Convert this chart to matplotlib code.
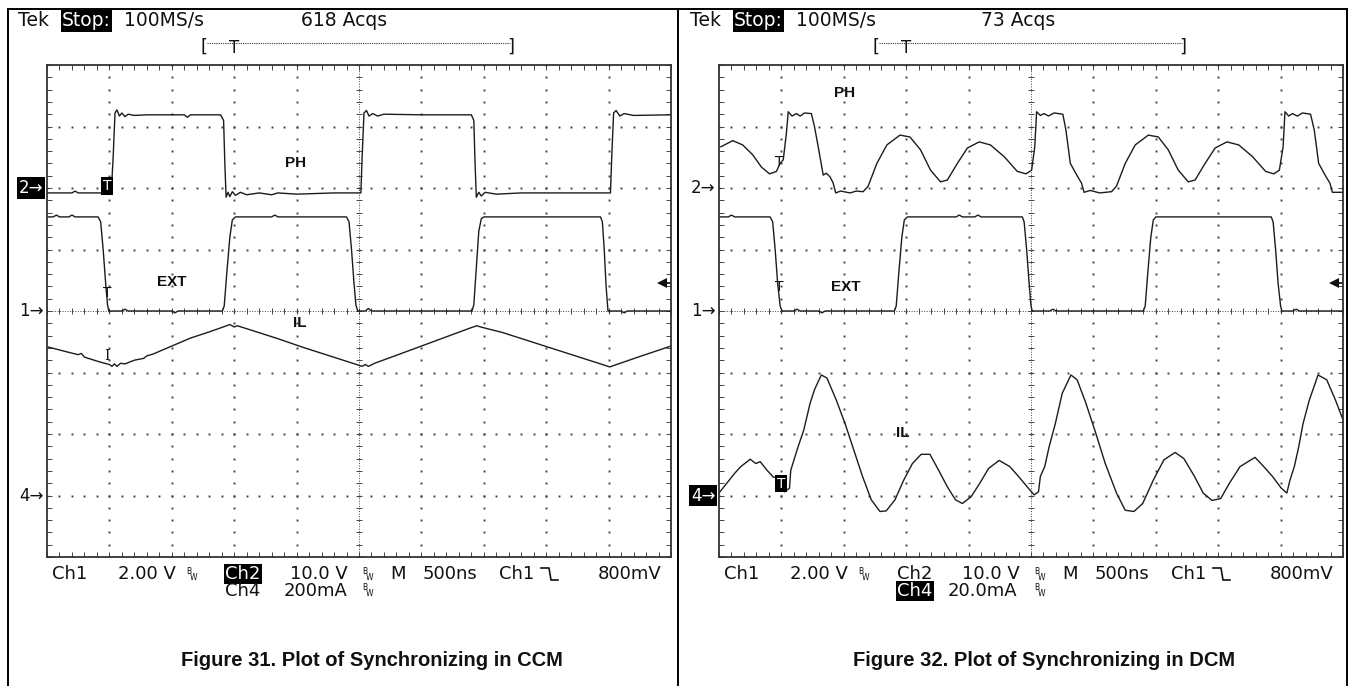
import numpy as np
import matplotlib
matplotlib.use('Agg')
import matplotlib.pyplot as plt
from matplotlib.lines import Line2D

W, H = 1353, 686

# traces: (time in divisions of 500 ns, level in divisions)
# ---- Figure 31, CCM ----
ccm_ph = [(0, 1.92), (0.4, 1.92), (0.45, 1.95), (0.5, 1.92), (1.03, 1.92), (1.06, 2.5),
          (1.09, 3.22), (1.12, 3.27), (1.16, 3.17), (1.2, 3.22), (1.25, 3.16), (1.3, 3.2),
          (1.4, 3.18), (1.6, 3.19), (2.2, 3.19), (2.25, 3.15), (2.3, 3.19), (2.78, 3.19),
          (2.83, 3.1), (2.85, 2.4), (2.87, 1.85), (2.9, 1.93), (2.93, 1.86), (2.97, 1.94),
          (3.02, 1.88), (3.1, 1.93), (3.2, 1.89), (3.4, 1.92), (3.6, 1.89), (3.7, 1.92),
          (4.0, 1.9), (4.6, 1.92), (5.03, 1.92), (5.05, 2.5), (5.08, 3.22), (5.12, 3.26),
          (5.16, 3.17), (5.22, 3.21), (5.3, 3.17), (5.4, 3.2), (6.0, 3.19), (6.8, 3.19),
          (6.84, 3.1), (6.86, 2.4), (6.88, 1.85), (6.92, 1.93), (6.96, 1.87), (7.02, 1.93),
          (7.2, 1.9), (7.6, 1.92), (9.03, 1.92), (9.05, 2.5), (9.08, 3.22), (9.12, 3.26),
          (9.18, 3.17), (9.25, 3.21), (9.4, 3.18), (10, 3.19)]
ccm_ext = [(0, 1.53), (0.1, 1.53), (0.15, 1.56), (0.2, 1.53), (0.35, 1.53), (0.4, 1.56),
           (0.45, 1.53), (0.82, 1.53), (0.86, 1.45), (0.9, 1.0), (0.94, 0.45), (0.97, 0.1),
           (0.99, 0.0), (1.2, 0.0), (1.25, 0.03), (1.3, 0.0), (2.0, 0.0), (2.05, -0.03),
           (2.1, 0.0), (2.81, 0.0), (2.84, 0.08), (2.88, 0.6), (2.93, 1.2), (2.97, 1.48),
           (3.02, 1.53), (3.6, 1.53), (3.65, 1.56), (3.7, 1.53), (4.8, 1.53), (4.84, 1.45),
           (4.88, 1.0), (4.92, 0.45), (4.95, 0.1), (4.98, 0.0), (5.1, 0.0), (5.15, 0.04),
           (5.2, 0.0), (6.81, 0.0), (6.84, 0.1), (6.88, 0.7), (6.92, 1.3), (6.96, 1.5),
           (7.0, 1.53), (8.87, 1.53), (8.9, 1.45), (8.93, 1.0), (8.96, 0.4), (8.99, 0.0),
           (9.2, 0.0), (9.25, -0.03), (9.3, 0.0), (10, 0.0)]
ccm_il = [(0, -0.58), (0.3, -0.66), (0.5, -0.71), (0.55, -0.69), (0.6, -0.75), (0.85, -0.83),
          (1.0, -0.87), (1.04, -0.9), (1.08, -0.86), (1.12, -0.9), (1.18, -0.85), (1.25, -0.86),
          (1.4, -0.8), (1.55, -0.77), (1.6, -0.73), (1.7, -0.7), (2.0, -0.57), (2.3, -0.44),
          (2.6, -0.34), (2.85, -0.25), (2.93, -0.22), (3.0, -0.26), (3.05, -0.24), (3.3, -0.32),
          (3.7, -0.45), (4.1, -0.59), (4.5, -0.72), (4.9, -0.85), (5.05, -0.9), (5.1, -0.87),
          (5.15, -0.9), (5.25, -0.85), (5.6, -0.72), (6.0, -0.57), (6.4, -0.42), (6.8, -0.27),
          (6.89, -0.24), (6.95, -0.26), (7.3, -0.35), (7.7, -0.48), (8.1, -0.61), (8.5, -0.74),
          (8.9, -0.87), (9.02, -0.91), (9.1, -0.88), (9.5, -0.74), (10.0, -0.57)]

# ---- Figure 32, DCM ----
dcm_ph = [(0.03, 2.67), (0.22, 2.77), (0.38, 2.7), (0.54, 2.54), (0.68, 2.34), (0.81, 2.23),
          (0.92, 2.27), (0.98, 2.4), (1.03, 2.46), (1.08, 2.89), (1.11, 3.24), (1.17, 3.17),
          (1.24, 3.21), (1.3, 3.17), (1.37, 3.22), (1.48, 3.21), (1.53, 3.0), (1.59, 2.67),
          (1.67, 2.21), (1.72, 2.24), (1.78, 2.18), (1.83, 2.08), (1.87, 1.92), (1.95, 1.95),
          (2.1, 1.92), (2.2, 1.95), (2.31, 1.94), (2.39, 2.03), (2.53, 2.4), (2.69, 2.7),
          (2.9, 2.86), (3.06, 2.83), (3.23, 2.62), (3.39, 2.29), (3.55, 2.1), (3.66, 2.13),
          (3.82, 2.4), (3.98, 2.65), (4.17, 2.75), (4.35, 2.7), (4.57, 2.51), (4.78, 2.27),
          (4.92, 2.23), (5.01, 2.29), (5.06, 2.67), (5.09, 3.24), (5.15, 3.18), (5.21, 3.21),
          (5.28, 3.17), (5.37, 3.22), (5.51, 3.2), (5.56, 2.94), (5.63, 2.4), (5.75, 2.18),
          (5.81, 2.08), (5.85, 1.93), (5.95, 1.96), (6.1, 1.92), (6.29, 1.94), (6.37, 2.03),
          (6.51, 2.4), (6.67, 2.7), (6.88, 2.86), (7.04, 2.83), (7.2, 2.62), (7.36, 2.29),
          (7.52, 2.1), (7.63, 2.13), (7.79, 2.4), (7.95, 2.65), (8.14, 2.75), (8.33, 2.7),
          (8.55, 2.51), (8.76, 2.27), (8.89, 2.23), (8.98, 2.29), (9.04, 2.67), (9.07, 3.24),
          (9.13, 3.17), (9.19, 3.21), (9.27, 3.17), (9.35, 3.22), (9.48, 3.2), (9.54, 2.94),
          (9.61, 2.4), (9.73, 2.18), (9.79, 2.08), (9.83, 1.93), (10.0, 1.93)]
dcm_ext = [(0, 1.53), (0.15, 1.53), (0.2, 1.56), (0.25, 1.53), (0.82, 1.53), (0.86, 1.45),
           (0.9, 1.0), (0.94, 0.45), (0.98, 0.08), (1.01, 0.0), (1.2, 0.0), (1.25, 0.03),
           (1.3, 0.0), (1.6, 0.0), (1.65, -0.03), (1.7, 0.0), (2.81, 0.0), (2.84, 0.08),
           (2.88, 0.6), (2.93, 1.2), (2.97, 1.48), (3.02, 1.53), (3.8, 1.53), (3.85, 1.56),
           (3.9, 1.53), (4.1, 1.53), (4.15, 1.56), (4.2, 1.53), (4.86, 1.53), (4.89, 1.45),
           (4.93, 1.0), (4.97, 0.45), (5.0, 0.08), (5.02, 0.0), (5.3, 0.0), (5.35, 0.03),
           (5.4, 0.0), (6.8, 0.0), (6.83, 0.08), (6.87, 0.6), (6.92, 1.2), (6.96, 1.48),
           (7.0, 1.53), (8.85, 1.53), (8.88, 1.45), (8.92, 1.0), (8.96, 0.45), (9.0, 0.08),
           (9.02, 0.0), (9.2, 0.0), (9.25, 0.03), (9.3, 0.0), (10, 0.0)]
dcm_il = [(0.0, -2.96), (0.25, -2.64), (0.35, -2.53), (0.5, -2.41), (0.59, -2.48), (0.66, -2.45),
          (0.77, -2.59), (0.87, -2.7), (0.98, -2.72), (1.05, -2.94), (1.13, -2.88), (1.15, -2.59),
          (1.26, -2.23), (1.36, -1.93), (1.46, -1.5), (1.53, -1.28), (1.64, -1.04), (1.73, -1.09),
          (1.88, -1.45), (2.02, -1.83), (2.16, -2.26), (2.3, -2.69), (2.44, -3.07), (2.58, -3.26),
          (2.68, -3.25), (2.82, -3.07), (2.96, -2.75), (3.1, -2.48), (3.24, -2.33), (3.38, -2.33),
          (3.52, -2.59), (3.66, -2.86), (3.79, -3.07), (3.9, -3.13), (4.04, -3.02), (4.18, -2.8),
          (4.32, -2.56), (4.49, -2.43), (4.66, -2.53), (4.8, -2.69), (4.94, -2.86), (5.05, -2.99),
          (5.12, -2.94), (5.15, -2.69), (5.22, -2.53), (5.29, -2.21), (5.39, -1.83), (5.5, -1.34),
          (5.64, -1.04), (5.74, -1.12), (5.88, -1.5), (6.02, -1.93), (6.19, -2.48), (6.37, -2.96),
          (6.51, -3.24), (6.65, -3.26), (6.79, -3.13), (6.96, -2.75), (7.13, -2.42), (7.31, -2.3),
          (7.45, -2.4), (7.62, -2.69), (7.76, -2.96), (7.9, -3.08), (8.04, -3.05), (8.18, -2.8),
          (8.35, -2.53), (8.59, -2.38), (8.73, -2.53), (8.87, -2.69), (9.01, -2.88), (9.1, -2.96),
          (9.15, -2.75), (9.22, -2.53), (9.29, -2.21), (9.36, -1.83), (9.46, -1.45), (9.6, -1.04),
          (9.74, -1.12), (9.88, -1.45), (10.0, -1.77)]

# channel ground markers (divisions) and trigger level
ch_names = ['2', '1', '4']
ch_offsets = [2.0, 0.0, -3.0]
trig_level = 0.45
trig_pos = 0.96

ccm_header = ['618 Acqs']
dcm_header = ['73 Acqs']
ccm_ch4_scale = '200mA'
dcm_ch4_scale = '20.0mA'
captions = ['Figure 31. Plot of Synchronizing in CCM', 'Figure 32. Plot of Synchronizing in DCM']

TRACE = '#1c1c1c'
GRID = '#444444'
SCOPE_FONT = 'DejaVu Sans'
BOLD_FONT = ['Liberation Sans', 'DejaVu Sans']

fig = plt.figure(figsize=(W / 100, H / 100), dpi=100)


def fx(px):
    return px / W


def fy(py):
    return 1 - py / H


def ftext(px, py, s, size=13, inv=False, **kw):
    kw.setdefault('family', SCOPE_FONT)
    if inv:
        kw['color'] = 'white'
        kw['bbox'] = dict(boxstyle='square,pad=0.08', fc='black', ec='none')
    else:
        kw.setdefault('color', '#111111')
    return fig.text(fx(px), fy(py), s, fontsize=size, va='center', **kw)


def bw(px, py):
    ftext(px, py - 3, 'B', size=5.5)
    ftext(px + 4, py + 3, 'W', size=5.5)


def fall_sym(px, py):
    xs = [px, px + 8, px + 10, px + 17]
    ys = [py - 6, py - 6, py + 6, py + 6]
    fig.add_artist(Line2D([fx(v) for v in xs], [fy(v) for v in ys], lw=1.2,
                          color='#111111', transform=fig.transFigure))


def graticule(ax):
    ax.set_xlim(0, 10)
    ax.set_ylim(-4, 4)
    minor_x = np.arange(0, 10.001, 0.2)
    minor_y = np.arange(-4, 4.001, 0.2)
    for i in range(1, 10):
        if i != 5:
            ax.plot([i] * len(minor_y), minor_y, ls='none', marker='s', ms=1.4, color=GRID, mew=0)
    for j in range(-3, 4):
        if j != 0:
            ax.plot(minor_x, [j] * len(minor_x), ls='none', marker='s', ms=1.4, color=GRID, mew=0)
    ax.axhline(0, ls=(0, (1, 1.6)), lw=0.7, color=GRID)
    ax.axvline(5, ls=(0, (1, 1.6)), lw=0.7, color=GRID)
    ax.plot(minor_x, [0] * len(minor_x), ls='none', marker='|', ms=4, mew=0.7, color=GRID)
    ax.plot([5] * len(minor_y), minor_y, ls='none', marker='_', ms=4, mew=0.7, color=GRID)
    ax.set_xticks(minor_x)
    ax.set_yticks(minor_y)
    ax.tick_params(direction='in', length=3.5, width=0.7, color=GRID, top=True, right=True,
                   labelbottom=False, labelleft=False)
    for s in ax.spines.values():
        s.set_linewidth(1.3)
        s.set_color('#333333')


def panel(shift, traces, labels, inv_ch, acqs, ch4_scale, ch2_inv, caption):
    ax = fig.add_axes([fx(47 + shift), fy(557), fx(624), (557 - 65) / H])
    graticule(ax)
    for tr in traces:
        t, v = np.array(tr).T
        ax.plot(t, v, color=TRACE, lw=1.0, solid_joinstyle='round')
    for (s, x, y) in labels:
        ax.text(x, y, s, ha='center', va='center', fontsize=11, fontweight='bold',
                family=BOLD_FONT, color='#111111')
    # channel markers
    ytr = ax.get_yaxis_transform()
    for name, off in zip(ch_names, ch_offsets):
        kw = dict(color='white', bbox=dict(boxstyle='square,pad=0.1', fc='black', ec='none')) \
            if name == inv_ch else dict(color='#111111')
        ax.text(-0.006, off, name + '\u2192', ha='right', va='center', fontsize=12,
                family=SCOPE_FONT, transform=ytr, clip_on=False, **kw)
    # trigger level arrow
    ax.plot([9.86], [trig_level], marker='<', ms=7, color='#111111', mew=0, clip_on=False)
    ax.plot([9.88, 10], [trig_level, trig_level], color='#111111', lw=1.2)
    # header
    ftext(18 + shift, 21, 'Tek', size=13.5)
    ftext(62 + shift, 21, 'Stop:', size=13.5, inv=True)
    ftext(124 + shift, 21, '100MS/s', size=13.5)
    ftext(301 + shift + (8 if shift else 0), 21, acqs, size=13.5)
    ftext(200 + shift, 47, '[', size=13)
    ftext(507 + shift, 47, ']', size=13)
    fig.add_artist(Line2D([fx(207 + shift), fx(510 + shift)], [fy(43), fy(43)], lw=0.8,
                          ls=(0, (1, 1)), color='#333333', transform=fig.transFigure))
    ftext(234 + shift, 48, 'T', size=12, ha='center')
    # bottom readout
    r1, r2 = 574, 591
    ftext(52 + shift, r1, 'Ch1')
    ftext(118 + shift, r1, '2.00 V')
    bw(186 + shift, r1)
    ftext(225 + shift, r1, 'Ch2', inv=ch2_inv)
    ftext(290 + shift, r1, '10.0 V')
    bw(362 + shift, r1)
    ftext(390 + shift, r1, 'M')
    ftext(423 + shift, r1, '500ns')
    ftext(499 + shift, r1, 'Ch1')
    fall_sym(541 + shift, r1)
    ftext(598 + shift, r1, '800mV')
    ftext(225 + shift, r2, 'Ch4', inv=not ch2_inv)
    ftext(284 + shift - (8 if shift else 0), r2, ch4_scale)
    bw(362 + shift, r2)
    fig.text(fx(372 + shift), fy(660), caption, ha='center', va='center', fontsize=14.5,
             fontweight='bold', family=BOLD_FONT, color='#111111')
    return ax


ax1 = panel(0, [ccm_ph, ccm_ext, ccm_il],
            [('PH', 3.99, 2.41), ('EXT', 2.0, 0.47), ('IL', 4.05, -0.2)],
            '2', ccm_header[0], ccm_ch4_scale, True, captions[0])
ax1.text(trig_pos, 2.03, 'T', ha='center', va='center', fontsize=10, color='white',
         bbox=dict(boxstyle='square,pad=0.12', fc='black', ec='none'))
ax1.text(trig_pos, 0.29, 'T', ha='center', va='center', fontsize=10, color='#111111')
ax1.text(trig_pos, -0.73, 'I', ha='center', va='center', fontsize=10, family='DejaVu Serif',
         color='#111111')

ax2 = panel(672, [dcm_ph, dcm_ext, dcm_il],
            [('PH', 2.01, 3.55), ('EXT', 2.03, 0.39), ('IL', 2.94, -1.98)],
            '4', dcm_header[0], dcm_ch4_scale, False, captions[1])
ax2.text(trig_pos, 2.42, 'T', ha='center', va='center', fontsize=10, color='#111111')
ax2.text(trig_pos, 0.39, 'T', ha='center', va='center', fontsize=10, color='#111111')
ax2.text(trig_pos + 0.04, -2.81, 'T', ha='center', va='center', fontsize=10, color='white',
         bbox=dict(boxstyle='square,pad=0.12', fc='black', ec='none'))

# outer frames
for xs, ys in [([8, 1347], [9, 9]), ([8, 8], [9, 686]), ([678, 678], [9, 686]),
               ([1347, 1347], [9, 686])]:
    fig.add_artist(Line2D([fx(v) for v in xs], [fy(v) for v in ys], lw=1.4, color='black',
                          transform=fig.transFigure))

fig.savefig('out.png', dpi=100)
